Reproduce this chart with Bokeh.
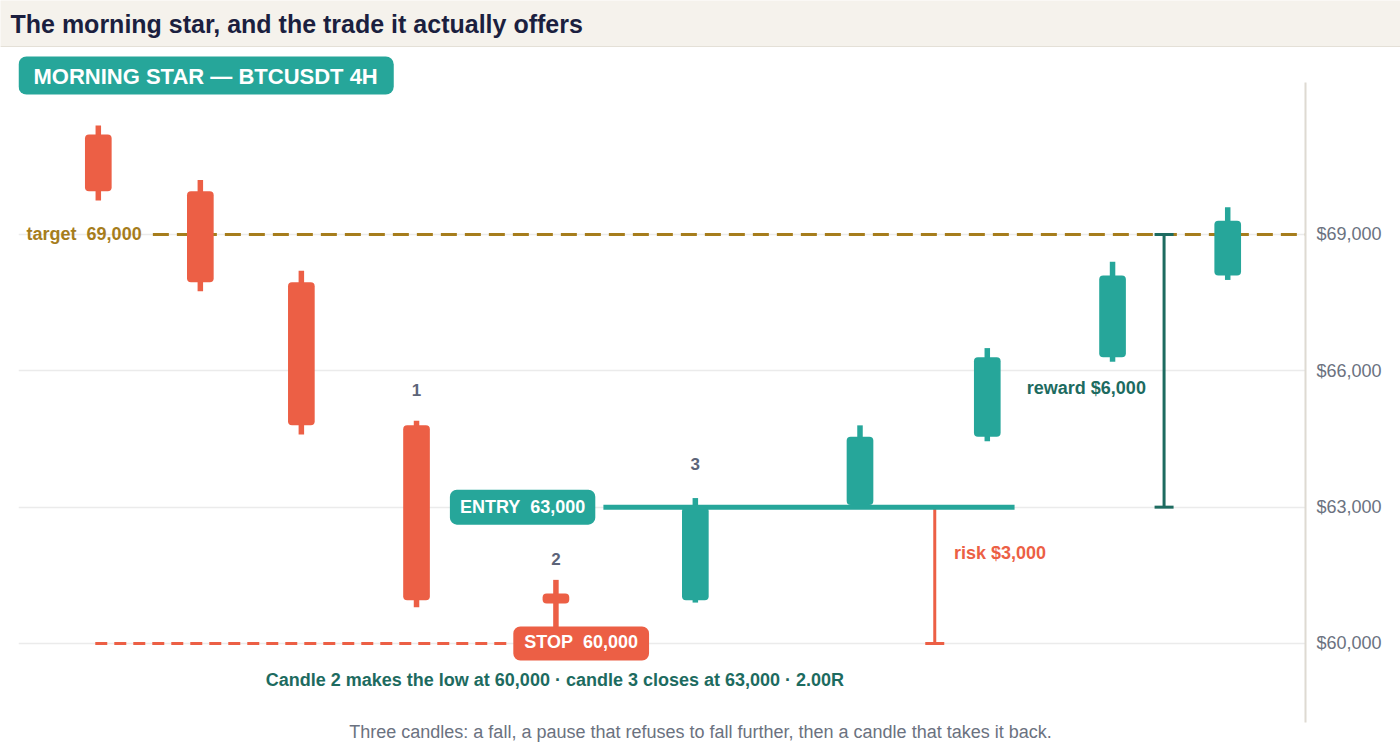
from bokeh.plotting import figure
from bokeh.layouts import column
from bokeh.models import ColumnDataSource, Label, FixedTicker, NumeralTickFormatter
from bokeh.core.properties import value
from bokeh.embed import file_html
from bokeh.resources import INLINE

# ten 4H candles, left to right (x in bar units)
candle_x = [0.75, 1.76, 2.76, 3.90, 5.28, 6.66, 8.29, 9.55, 10.79, 11.93]
opens = [71200, 69950, 67950, 64800, 61100, 60950, 63050, 64550, 66300, 68100]
highs = [71400, 70200, 68200, 64900, 61400, 63200, 64800, 66500, 68400, 69600]
lows = [69750, 67750, 64600, 60800, 60000, 60900, 63000, 64450, 66200, 68000]
closes = [69950, 67950, 64800, 60950, 60880, 63000, 64550, 66300, 68100, 69300]

# trade levels
entry = 63000
stop = 60000
target = 69000
price_ticks = [60000, 63000, 66000, 69000]

# the three pattern candles
num_x = [3.90, 5.28, 6.66]
num_y = [65570, 61870, 63960]
num_text = ["1", "2", "3"]

risk = entry - stop
reward = target - entry

RED = "#ec5f45"
TEAL = "#26a69a"
DARK = "#1d6b60"
GOLD = "#a67d1c"
SLATE = "#5c6478"
GREY = "#6b7280"
BEIGE = "#f5f2ec"
FONT = "Liberation Sans"
SP2 = "\u00a0\u00a0"  # double space that svg keeps

# header strip
head = figure(width=1400, height=47, x_range=(0, 1), y_range=(0, 1),
              x_axis_location=None, y_axis_location=None,
              toolbar_location=None, output_backend="svg",
              min_border=0)
head.frame_align = False
head.outline_line_color = None
head.border_fill_color = BEIGE
head.background_fill_color = BEIGE
head.grid.visible = False
head.segment(x0=0, y0=0, x1=1, y1=0, line_color="#e4e0d7", line_width=3)
head.add_layout(Label(x=10, y=24, x_units="screen", y_units="screen",
                      text="The morning star, and the trade it actually offers",
                      text_font=FONT, text_font_style="bold", text_font_size="25px",
                      text_color="#1b1f3f", text_baseline="middle"))

# main card
p = figure(width=1400, height=698, x_range=(-0.04, 12.7), y_range=(57755, 73115),
           x_axis_location=None, y_axis_location="right",
           toolbar_location=None, output_backend="svg",
           min_border_left=18, min_border_right=95, min_border_top=0, min_border_bottom=0)
p.frame_align = False
p.outline_line_color = None
p.border_fill_color = "white"
p.background_fill_color = "white"

ticker = FixedTicker(ticks=price_ticks)
p.xgrid.visible = False
p.ygrid.ticker = ticker
p.ygrid.grid_line_color = "#ebebeb"
p.ygrid.grid_line_width = 1.5
p.yaxis.ticker = ticker
p.yaxis.bounds = (58262, 72345)
p.yaxis.formatter = NumeralTickFormatter(format="$0,0")
p.yaxis.axis_line_color = "#dedad2"
p.yaxis.axis_line_width = 2
p.yaxis.major_tick_line_color = None
p.yaxis.minor_tick_line_color = None
p.yaxis.major_label_text_font = FONT
p.yaxis.major_label_text_font_size = "18px"
p.yaxis.major_label_text_color = GREY
p.yaxis.major_label_standoff = 5

# target and stop levels (under the candles)
p.segment(x0=1.29, y0=target, x1=12.7, y1=target, line_color=GOLD, line_width=3, line_dash="16 8")
p.segment(x0=0.72, y0=stop, x1=4.84, y1=stop, line_color=RED, line_width=3, line_dash="12 7")

# candles
colors = [TEAL if c >= o else RED for o, c in zip(opens, closes)]
src = ColumnDataSource(dict(
    x=candle_x, high=highs, low=lows,
    top=[max(o, c) for o, c in zip(opens, closes)],
    bottom=[min(o, c) for o, c in zip(opens, closes)],
    color=colors,
))
p.segment("x", "high", "x", "low", source=src, line_color="color", line_width=5.5)
p.vbar(x="x", width=0.264, top="top", bottom="bottom", source=src,
       fill_color="color", line_color=None, border_radius=4)

# risk and reward bars
p.segment(x0=9.03, y0=entry, x1=9.03, y1=stop, line_color=RED, line_width=3)
p.scatter(x=[9.03], y=[stop], marker="dash", size=19, line_color=RED, line_width=3)
p.segment(x0=11.30, y0=entry, x1=11.30, y1=target, line_color=DARK, line_width=3)
p.scatter(x=[11.30, 11.30], y=[entry, target], marker="dash", size=19, line_color=DARK, line_width=3)

# entry line over the candles
p.segment(x0=5.75, y0=entry, x1=9.82, y1=entry, line_color=TEAL, line_width=5)

p.text(x=num_x, y=num_y, text=num_text, text_font=value(FONT), text_font_style="bold",
       text_font_size="17px", text_color=SLATE, text_align="center", text_baseline="middle")


def label(**kw):
    kw.setdefault("text_font", FONT)
    kw.setdefault("text_font_style", "bold")
    kw.setdefault("text_font_size", "18px")
    kw.setdefault("text_baseline", "middle")
    p.add_layout(Label(**kw))


label(x=0.04, y=target, text=f"target{SP2}{target:,}", text_color=GOLD)
label(x=9.22, y=62000, text=f"risk ${risk:,}", text_color=RED)
label(x=11.12, y=65630, text=f"reward ${reward:,}", text_color=DARK, text_align="right")
label(x=4.95, y=entry, text=f"ENTRY{SP2}{entry:,}", text_color="white", text_align="center",
      background_fill_color=TEAL, border_radius=7,
      padding=dict(left=10, right=10, top=7, bottom=8))
label(x=5.53, y=stop, text=f"STOP{SP2}{stop:,}", text_color="white", text_align="center",
      background_fill_color=RED, border_radius=7,
      padding=dict(left=11, right=11, top=6, bottom=8))
label(x=5.27, y=59186, text=f"Candle 2 makes the low at {stop:,} \u00b7 candle 3 closes at {entry:,} \u00b7 {reward / risk:.2f}R",
      text_color=DARK, text_align="center")

# badge and caption, placed in pixels from the card's plot corner
label(x=0, y=670, x_units="screen", y_units="screen",
      text="MORNING STAR \u2014 BTCUSDT 4H", text_color="white", text_font_size="22px",
      background_fill_color=TEAL, border_radius=8,
      padding=dict(left=15, right=16, top=7, bottom=6))
label(x=682, y=14, x_units="screen", y_units="screen",
      text="Three candles: a fall, a pause that refuses to fall further, then a candle that takes it back.",
      text_color=GREY, text_font_style="normal", text_align="center")

open("out.html", "w").write(file_html(column(head, p), INLINE))
